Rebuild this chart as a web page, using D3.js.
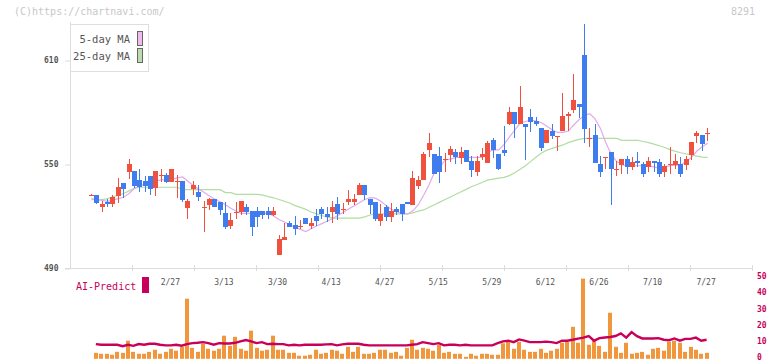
<!DOCTYPE html>
<html>
<head>
<meta charset="utf-8">
<script src="https://cdn.jsdelivr.net/npm/d3@7"></script>
<style>
  body { margin: 0; background: #fff; }
  svg { display: block; font-family: 'DejaVu Sans Mono', monospace; }
</style>
</head>
<body>
<div id="chart"></div>
<script>
// daily candles, index 1..116 (left to right)
const opens = [532, 532, 525.4, 528.3, 526.7, 531.5, 539, 545.4, 546, 540.8,
  540.2, 543.1, 536.2, 543, 543.7, 539.6, 540, 540.2, 524.6, 535.6,
  533.8, 525, 526.3, 529.8, 528.1, 521.7, 514.2, 522, 522.3, 525.2,
  522.9, 522.9, 522.9, 522.9, 520.6, 497.5, 506.2, 516, 514.8, 514,
  518.8, 514.2, 520, 524, 521.2, 522.3, 527, 523.8, 528.1, 528.1,
  532.1, 537.9, 529.8, 528.1, 517.1, 525.2, 519.5, 524, 527, 528.1,
  526.3, 537.3, 540.8, 558.1, 555.8, 554.6, 552.6, 555.2, 557, 553.5,
  558.1, 551.7, 545.4, 554, 550.6, 563.8, 555.8, 558.1, 573.1, 580,
  573.1, 573.1, 577.1, 574.8, 570.8, 562.1, 569, 566, 569, 577.7,
  581.2, 584.6, 612.9, 564.8, 566.7, 550, 553.8, 557, 547, 549.4,
  552.9, 548.3, 551.7, 550, 548.3, 551.7, 551.2, 545.4, 549.8, 549.4,
  550, 549.4, 555.2, 566.2, 566.7, 567.7];
const highs = [532.5, 532, 528.7, 529.6, 532.1, 541.9, 539, 552.9, 546, 547.1,
  543.1, 543.1, 546, 547.1, 544.8, 547.1, 543.7, 540.2, 529.8, 540.2,
  537.9, 528.7, 530.4, 529.8, 528.1, 528.1, 521.7, 528.1, 528.7, 527,
  522.9, 525.2, 522.9, 525.2, 525.2, 509, 516, 517.1, 520, 517.7,
  518.8, 518.8, 524, 525.2, 525.2, 528.7, 531, 527.5, 535, 532.7,
  539, 537.9, 529.8, 528.1, 527, 526.3, 527.5, 525.2, 527, 528.1,
  546, 543.1, 557, 567.9, 555.8, 559.8, 556.3, 560.4, 558.7, 559.8,
  558.1, 554.6, 554.6, 559.2, 563.3, 565, 555.8, 571.9, 582.9, 580,
  595, 573.1, 581.7, 577.1, 570.8, 569.6, 573.1, 566.2, 590.9, 580,
  601.9, 584.6, 630.8, 570.8, 573.1, 554.6, 554, 557, 551.7, 552.9,
  554.6, 554, 557, 551.2, 554, 551.7, 552.9, 550, 559.8, 555.8,
  554, 554.6, 562.7, 569, 566.7, 570.8];
const lows = [531.5, 526.7, 522.3, 525, 525, 527.7, 530.2, 541.3, 536, 534,
  533.6, 532.1, 531.5, 539.6, 538.9, 539.6, 530.4, 528.1, 518.3, 532.1,
  528.7, 510.8, 523.5, 525.2, 520.6, 512.5, 512.5, 518.3, 520.6, 520.6,
  508.5, 513.7, 518.3, 518.3, 520, 497.5, 506.2, 513.7, 509, 512.5,
  515.4, 512.5, 514.2, 518.3, 516.5, 516, 517.7, 521.2, 526.3, 526.3,
  532.1, 529.2, 521.2, 517.1, 514.2, 517.1, 516.5, 520.6, 517.1, 527,
  526.3, 535.6, 540.8, 554, 544.2, 539, 545.4, 551.2, 550, 550,
  551.2, 542.5, 543.1, 552.3, 550.6, 553.5, 546.5, 554.6, 572.5, 565,
  573.1, 552.3, 568.5, 571.9, 557.5, 562.1, 564.4, 557.5, 569, 569,
  579.4, 576.5, 562.1, 559.8, 550.6, 542.5, 547.1, 526.3, 543.1, 544.2,
  544.2, 546.5, 548.3, 542.5, 545.4, 545.4, 542.5, 542.5, 544.2, 547.1,
  542.5, 546.5, 552.3, 562.1, 557.5, 563.3];
const closes = [532.3, 527.7, 527, 526.7, 531, 536.7, 535.6, 550, 537.3, 536.7,
  537.3, 535.6, 546, 543.5, 539.6, 547.1, 540.2, 529.2, 528.7, 537.9,
  530.9, 525.2, 529.8, 525.2, 523.5, 513.7, 517.7, 522.3, 528.7, 522.3,
  513.7, 519.5, 520.6, 520.6, 522.9, 506.7, 507.9, 513.7, 512.5, 514.2,
  515.4, 516, 517.1, 521.2, 519.5, 525.2, 521.2, 524, 529.8, 529.8,
  537.9, 532.1, 526.3, 518.3, 521.2, 519.5, 522.9, 522.3, 521.2, 527,
  541.9, 540.8, 555.8, 562.1, 544.2, 545.4, 552.9, 558.7, 554, 557,
  551.2, 546.5, 551.7, 555.8, 562.1, 558.1, 547.1, 556.3, 580, 573.1,
  582.9, 571.3, 574.2, 573.1, 559.2, 569.6, 566.2, 566.2, 577.7, 578.8,
  586.9, 582.9, 570.2, 565, 550.6, 545.4, 554, 547.1, 547.1, 552.9,
  548.3, 551.2, 550.6, 544.2, 551.7, 550.6, 544.2, 548.8, 550, 551.7,
  544.2, 552.9, 562.7, 567.9, 561.5, 567.9];

// moving averages as drawn, one value per candle
const ma5 = [530, 529.5, 529, 528.5, 529.2, 530, 530.8, 533, 535.8, 537.2,
  538.5, 539.5, 540.2, 540.8, 541, 541.3, 542, 542.5, 540, 537.6,
  535.5, 533.7, 531.5, 529.8, 528.2, 526.5, 524.5, 522.7, 521.5, 521.5,
  521.5, 521.5, 521.5, 521.5, 520, 518, 516.5, 514.8, 513.5, 512.3,
  511, 512.6, 514.2, 515.6, 517, 518.6, 520.3, 522.2, 524, 525.8,
  527.7, 529.5, 530.6, 530.3, 528.5, 526, 523.8, 522.3, 521.4, 521.2,
  523, 526.5, 532, 538, 545, 548, 552.3, 552.8, 553.8, 553.8,
  553.8, 553.8, 553.8, 553.8, 557, 558.1, 558.1, 561.3, 565.5, 569.5,
  573.5, 574.5, 575.3, 574.8, 573.8, 571.8, 569.8, 568.2, 568.2, 569,
  572.5, 575.5, 578, 579, 576, 570.5, 562.3, 555.7, 551.5, 549.6,
  549, 549, 549, 549, 549, 548.3, 547.5, 548.3, 549.1, 549.4,
  549.4, 551.5, 553.8, 557.5, 560, 562];
const ma25 = [529.5, 529.5, 529.5, 530, 531, 532, 533, 534.5, 536, 536.6,
  536.6, 536.6, 536.6, 536.6, 536.6, 536.6, 536.6, 535.2, 535.2, 535.2,
  535.2, 535.2, 535.2, 535.2, 535.2, 533.5, 533.5, 532.5, 532.5, 532.5,
  532.5, 532.5, 532, 531.2, 530.5, 529.5, 528.5, 527.5, 526, 525,
  523.8, 522.3, 521.2, 520.3, 519.3, 518.8, 518.8, 518.8, 518.8, 518.8,
  518.8, 519.5, 520.6, 521.2, 521.2, 521.2, 521.2, 521.2, 521.2, 521.2,
  521.8, 522.8, 523.5, 525, 526.5, 528, 529.5, 531, 532.5, 534,
  535.5, 537, 538.2, 539.5, 540.8, 541.3, 541.8, 542.3, 543.3, 545,
  547, 549, 551.5, 554, 556.3, 558, 559, 560, 561, 562.3,
  563.3, 564.2, 564.8, 564.8, 564.8, 564.8, 564.8, 564.8, 564.8, 563.6,
  563.6, 563.6, 563.6, 563, 562.3, 561.5, 560.5, 559.5, 558.3, 557.3,
  556.5, 555.8, 555.2, 554.5, 554, 553.8];

// lower panel, candles 2..116
const volumes = [3.7, 3.1, 3.1, 2.5, 4.3, 3.7, 11.2, 4.3, 3.1, 3.1,
  4.3, 5.6, 3.1, 4.3, 6.2, 5, 7.4, 37.2, 6.8, 4.3,
  9.3, 6.2, 5, 6.2, 14.3, 8, 13.6, 6.2, 5, 17.4,
  6.8, 5, 5.6, 14.3, 5.6, 5.6, 3.7, 3.7, 1.9, 1.9,
  2.5, 5.6, 3.1, 3.7, 5.6, 5, 3.1, 7.4, 4.3, 7.4,
  3.1, 3.1, 3.7, 5.6, 5.6, 3.7, 4.3, 1.9, 6.8, 11.8,
  5.6, 6.8, 6.2, 5, 8.7, 3.7, 4.3, 3.1, 3.1, 1.2,
  3.1, 1.9, 3.1, 3.1, 2.5, 2.5, 9.6, 11.2, 6.2, 10.5,
  5.6, 4.3, 4.3, 6.2, 3.7, 5, 6.2, 9.9, 10.5, 19.8,
  9.9, 49.6, 8.7, 11.2, 8, 4.3, 28.5, 7.4, 3.7, 9.9,
  3.1, 3.7, 4.3, 2.5, 6.2, 6.8, 5, 10.5, 11.2, 9.9,
  4.3, 7.4, 5.6, 3.1, 3.7];
const aiPredict = [9.1, 8.7, 8.7, 8.7, 8.7, 7.8, 8.7, 8, 9.1, 8.7,
  9.3, 9.3, 8.7, 8.3, 8.3, 8.7, 8.1, 9.1, 9.7, 9.9,
  10.3, 9.7, 8.7, 9.7, 9.5, 9.5, 9.9, 10.8, 11.6, 10.8,
  9.7, 10.3, 9.1, 9.3, 9.1, 9.1, 8.3, 8.7, 8.3, 8.7,
  8.7, 8.7, 8.7, 8.9, 9.1, 8.3, 8.9, 9.3, 9.3, 9.3,
  8.7, 8.3, 8.3, 8.3, 8.3, 8.3, 8.3, 8.3, 8.3, 8.7,
  9.1, 10.3, 9.7, 9.1, 9.7, 8.3, 8.7, 8.7, 8.3, 8.7,
  8.3, 8.3, 8.3, 8.3, 8.3, 9.7, 10.8, 11.2, 10.3, 12,
  11.2, 10.3, 10.3, 10.3, 10.6, 10.3, 9.7, 11.2, 11.2, 11.8,
  12.5, 13.1, 14.1, 11.2, 12.8, 13.2, 13.5, 14.1, 15.7, 13.1,
  16.5, 14, 12.6, 12.6, 12.6, 12.8, 11.8, 11.5, 12.6, 11.2,
  12.3, 12.3, 13.1, 11.2, 11.8];

const tickLabels = ['2/27', '3/13', '3/30', '4/13', '4/27', '5/15', '5/29', '6/12', '6/26', '7/10', '7/27'];
const tickIdx = [16, 26, 36, 46, 56, 66, 76, 86, 96, 106, 116];
const priceTicks = [490, 550, 610];
const volTicks = [0, 10, 20, 30, 40, 50];

class CandleChart {
  constructor(_config) {
    this.config = {
      parentElement: _config.parentElement,
      containerWidth: 772,
      containerHeight: 361,
      plot: { left: 70, right: 752, top: 22, bottom: 268 },
    };
    this.initVis();
  }

  initVis() {
    const vis = this;
    const p = vis.config.plot;

    vis.svg = d3.select(vis.config.parentElement).append('svg')
      .attr('width', vis.config.containerWidth)
      .attr('height', vis.config.containerHeight);

    vis.xScale = d3.scaleLinear().domain([1, closes.length]).range([91.5, 707.6]);
    vis.yScale = d3.scaleLinear().domain([490, 610]).range([p.bottom, 60]);
    vis.gridScale = d3.scaleLinear().domain([0, 11]).range([p.left, p.right]);
    vis.volScale = d3.scaleLinear().domain([0, 50]).range([358.8, 278]);

    vis.candles = closes.map((c, i) => ({
      i: i + 1, o: opens[i], h: highs[i], l: lows[i], c,
    }));
    vis.vols = volumes.map((v, i) => ({ i: i + 2, v, ai: aiPredict[i] }));

    vis.renderVis();
  }

  renderVis() {
    const vis = this;
    const p = vis.config.plot;
    const grey = '#dcdcdc';

    // header texts
    vis.svg.append('text')
      .attr('x', 14).attr('y', 15)
      .attr('font-size', 10).attr('fill', '#c8c8c8')
      .text('(C)https://chartnavi.com/');
    vis.svg.append('text')
      .attr('x', 755).attr('y', 15)
      .attr('text-anchor', 'end')
      .attr('font-size', 10).attr('fill', '#c8c8c8')
      .text('8291');

    // frame: left axis + bottom axis
    vis.svg.append('line')
      .attr('x1', p.left + 0.5).attr('x2', p.left + 0.5)
      .attr('y1', p.top).attr('y2', p.bottom)
      .attr('stroke', grey);
    vis.svg.append('line')
      .attr('x1', 65).attr('x2', p.right + 0.5)
      .attr('y1', p.bottom + 0.5).attr('y2', p.bottom + 0.5)
      .attr('stroke', grey);

    vis.svg.selectAll('.grid-tick')
      .data(d3.range(1, 12))
      .join('line')
      .attr('class', 'grid-tick')
      .attr('x1', (d) => Math.round(vis.gridScale(d)) + 0.5)
      .attr('x2', (d) => Math.round(vis.gridScale(d)) + 0.5)
      .attr('y1', p.bottom - 3)
      .attr('y2', p.bottom + 3)
      .attr('stroke', grey);

    // price ticks
    const yAxis = d3.axisLeft(vis.yScale)
      .tickValues(priceTicks)
      .tickSize(5)
      .tickPadding(6);
    const yAxisG = vis.svg.append('g')
      .attr('transform', `translate(${p.left},0)`)
      .call(yAxis);
    yAxisG.select('.domain').remove();
    yAxisG.selectAll('line').attr('stroke', grey).attr('transform', 'translate(0,0.5)');
    yAxisG.selectAll('text')
      .attr('font-family', 'DejaVu Sans Mono')
      .attr('font-size', 8).attr('font-weight', 'bold')
      .attr('fill', '#555')
      .attr('dx', '-0.5');

    // date labels
    vis.svg.selectAll('.date-label')
      .data(tickLabels)
      .join('text')
      .attr('class', 'date-label')
      .attr('x', (d, i) => vis.xScale(tickIdx[i]) - 1.5)
      .attr('y', 284.5)
      .attr('text-anchor', 'middle')
      .attr('font-size', 8)
      .attr('fill', '#555')
      .text((d) => d);

    // moving averages (behind candles)
    const maLine = (arr) => d3.line()
      .x((d, i) => vis.xScale(i + 1))
      .y((d) => vis.yScale(d))(arr);

    vis.svg.append('path')
      .attr('d', maLine(ma25))
      .attr('fill', 'none')
      .attr('stroke', '#b2dca2')
      .attr('stroke-width', 1.2);
    vis.svg.append('path')
      .attr('d', maLine(ma5))
      .attr('fill', 'none')
      .attr('stroke', '#e2aaec')
      .attr('stroke-width', 1.2);

    // candles
    const candleG = vis.svg.selectAll('.candle')
      .data(vis.candles)
      .join('g')
      .attr('class', 'candle')
      .attr('fill', (d) => (d.c >= d.o ? '#f0513f' : '#3f7cee'));

    candleG.append('rect')
      .attr('x', (d) => Math.round(vis.xScale(d.i) - 2.5) + 2)
      .attr('width', 1)
      .attr('y', (d) => Math.round(vis.yScale(d.h)))
      .attr('height', (d) => Math.max(1, Math.round(vis.yScale(d.l)) - Math.round(vis.yScale(d.h))));

    candleG.append('rect')
      .attr('x', (d) => Math.round(vis.xScale(d.i) - 2.5))
      .attr('width', 5)
      .attr('y', (d) => Math.round(vis.yScale(Math.max(d.o, d.c))))
      .attr('height', (d) => Math.max(1, Math.round(vis.yScale(Math.min(d.o, d.c)))
        - Math.round(vis.yScale(Math.max(d.o, d.c)))));

    // legend
    const legend = vis.svg.append('g');
    legend.append('rect')
      .attr('x', 70.5).attr('y', 24.5)
      .attr('width', 78).attr('height', 47)
      .attr('fill', '#fff').attr('stroke', '#dedede');
    const legendItems = [
      { label: '5-day MA', color: '#f0bcf0', y: 31.5 },
      { label: '25-day MA', color: '#bcdcb0', y: 48.5 },
    ];
    legend.selectAll('.lg-swatch')
      .data(legendItems)
      .join('rect')
      .attr('class', 'lg-swatch')
      .attr('x', 137.5).attr('y', (d) => d.y)
      .attr('width', 5).attr('height', 14)
      .attr('fill', (d) => d.color)
      .attr('stroke', '#666');
    legend.selectAll('.lg-text')
      .data(legendItems)
      .join('text')
      .attr('class', 'lg-text')
      .attr('x', 130).attr('y', (d) => d.y + 11.5)
      .attr('text-anchor', 'end')
      .attr('font-size', 10.5)
      .attr('fill', '#555')
      .text((d) => d.label);

    // AI-Predict panel
    vis.svg.append('text')
      .attr('x', 76).attr('y', 290)
      .attr('font-size', 10)
      .attr('fill', '#c8005a')
      .text('AI-Predict');
    vis.svg.append('rect')
      .attr('x', 142).attr('y', 277)
      .attr('width', 7).attr('height', 16)
      .attr('fill', '#c8005a');

    vis.svg.selectAll('.vol-bar')
      .data(vis.vols)
      .join('rect')
      .attr('class', 'vol-bar')
      .attr('x', (d) => Math.round(vis.xScale(d.i) - 3))
      .attr('width', 4)
      .attr('y', (d) => vis.volScale(d.v))
      .attr('height', (d) => vis.volScale(0) - vis.volScale(d.v))
      .attr('fill', '#f0963c');

    vis.svg.append('path')
      .datum(vis.vols)
      .attr('d', d3.line()
        .x((d) => vis.xScale(d.i) - 1)
        .y((d) => vis.volScale(d.ai)))
      .attr('fill', 'none')
      .attr('stroke', '#c8005a')
      .attr('stroke-width', 2.4);

    const volAxisG = vis.svg.append('g')
      .attr('transform', `translate(${p.right},0)`)
      .call(d3.axisRight(vis.volScale).tickValues(volTicks).tickSize(0).tickPadding(5));
    volAxisG.select('.domain').remove();
    volAxisG.selectAll('text')
      .attr('font-family', 'DejaVu Sans Mono')
      .attr('font-size', 8).attr('font-weight', 'bold')
      .attr('fill', '#c8005a')
      .attr('y', -1.8);
  }
}

new CandleChart({ parentElement: '#chart' });
</script>
</body>
</html>
